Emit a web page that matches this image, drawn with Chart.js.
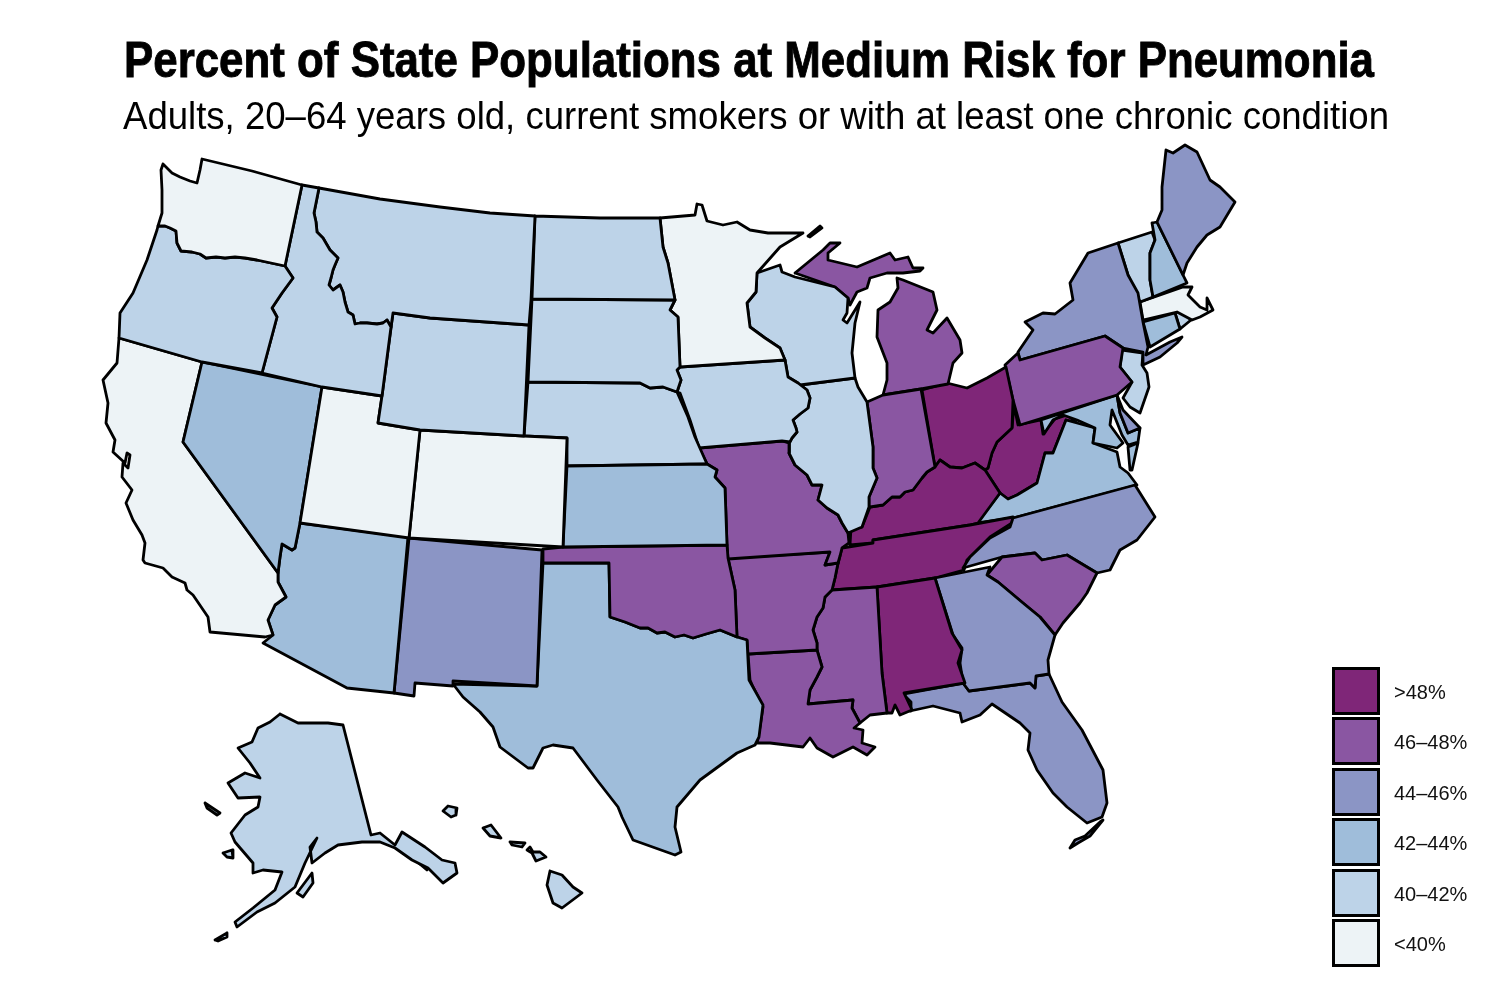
<!DOCTYPE html>
<html><head><meta charset="utf-8">
<script src="https://cdn.jsdelivr.net/npm/chart.js@4"></script>
<style>
html,body{margin:0;padding:0;background:#fff;width:1500px;height:1000px;overflow:hidden}
#wrap{position:absolute;left:0;top:0;width:1500px;height:1000px}
.t{position:absolute;white-space:nowrap;transform-origin:0 0;color:#000}
#title{left:124px;top:33px;font:bold 50px/54px "Liberation Sans Narrow","Liberation Sans",sans-serif;-webkit-text-stroke:0.9px #000}
#sub{left:123px;top:93px;font:normal 39px/46px "Liberation Sans Narrow","Liberation Sans",sans-serif}
.sw{position:absolute;left:1332px;width:42px;height:42px;border:3px solid #000}
.lb{position:absolute;left:1394px;font:20px/24px "Liberation Sans",sans-serif;color:#111}
</style></head><body>
<div id="wrap"><canvas id="c" width="1500" height="1000"></canvas></div>
<div class="t" id="title" data-w="1250">Percent of State Populations at Medium Risk for Pneumonia</div>
<div class="t" id="sub" data-w="1266">Adults, 20–64 years old, current smokers or with at least one chronic condition</div>
<div id="legend"></div>
<script>
const bandLabels=['>48%','46–48%','44–46%','42–44%','40–42%','<40%'];
const bandColors=['#7F2678','#8A56A2','#8B95C5','#9FBDDA','#BDD3E8','#EDF3F6'];
const rev=a=>a.slice().reverse();
// shared borders
const b_WA_OR=[[158,226],[165,226],[170,228],[176,231],[177,243],[181,251],[192,252],[200,254],[206,258],[216,257],[225,258],[235,257],[245,258],[257,260],[285,266]];
const b_ID_MT=[[319,188],[314,213],[316,222],[317,232],[323,238],[330,250],[338,258],[335,265],[333,270],[331,278],[329,285],[333,290],[340,285],[343,292],[345,302],[348,312],[353,315],[355,324],[360,323],[367,323],[377,324],[383,323],[387,320],[391,327]];
const b_UM=[[756,292],[747,303],[750,327],[765,338],[780,348],[785,360]];
const b_IA_E=[[785,360],[788,377],[798,383],[807,390],[810,398],[808,408],[800,414],[793,420],[796,428],[797,432],[792,438],[790,442]];
const b_MO_IL=[[789,443],[789,453],[795,465],[807,475],[812,485],[822,485],[818,500],[827,508],[838,515],[842,523],[848,533]];
const b_IN_KY=[[870,507],[883,505],[892,497],[900,497],[905,492],[913,490],[922,478],[927,472],[935,467]];
const b_OH_KY=[[940,460],[950,467],[962,468],[975,463],[985,470]];
const b_OH_WV=[[988,468],[992,453],[997,442],[1012,428]];
const b_TN_W=[[842,548],[837,568],[835,578],[832,590]];
const b_MS_AR=[[825,597],[823,608],[817,617],[813,630],[817,643],[817,650]];
const b_LA_MS=[[817,650],[822,667],[817,677],[810,690],[808,704]];
const WA=[[163,164],[161,170],[162,190],[162,213],...b_WA_OR,[302,185],[252,171],[202,159],[200,170],[197,183],[190,181],[180,177],[172,173]];
const OR=[[119,338],[120,313],[133,293],[147,260],[157,230],...b_WA_OR,[293,278],[282,293],[272,308],[277,317],[262,373],[202,362]];
const ID=[[302,185],...b_ID_MT,[382,396],[322,387],[262,373],[277,317],[272,308],[282,293],[293,278],[285,266]];
const MT=[[319,188],[380,199],[440,207],[490,213],[535,216],[531,300],[529,325],[430,318],[393,313],...rev(b_ID_MT)];
const WY=[[393,313],[430,318],[529,325],[524,436],[420,430],[378,423],[382,396]];
const UT=[[322,387],[382,396],[378,423],[420,430],[409,538],[300,523]];
const CO=[[420,430],[524,436],[567,438],[563,547],[409,538]];
const NV=[[202,362],[322,387],[300,523],[295,548],[292,550],[282,544],[280,557],[278,573],[183,442]];
const CA=[[119,338],[202,362],[183,442],[278,573],[278,582],[286,597],[275,605],[268,620],[273,635],[265,637],[210,632],[208,617],[193,595],[187,590],[185,583],[172,577],[163,568],[145,563],[143,560],[145,543],[142,535],[133,520],[126,503],[132,490],[122,477],[123,463],[128,468],[130,455],[127,453],[125,463],[113,452],[115,440],[106,423],[108,403],[103,380],[117,363]];
const AZ=[[300,523],[408,537],[394,693],[347,688],[263,643],[273,635],[268,620],[275,605],[286,597],[278,582],[278,573],[280,557],[282,544],[292,550],[295,548]];
const NM=[[409,538],[542,550],[537,686],[453,681],[453,686],[415,683],[414,696],[394,693]];
const KS=[[567,466],[707,464],[717,470],[715,477],[725,488],[727,545],[563,547]];
const OK=[[543,549],[563,547],[727,545],[728,558],[735,590],[737,637],[720,630],[706,634],[693,638],[684,635],[675,637],[665,632],[657,633],[648,628],[640,628],[625,622],[610,617],[609,563],[543,563]];
const TX=[[543,563],[609,563],[610,617],[625,622],[640,628],[648,628],[657,633],[665,632],[675,637],[684,635],[693,638],[706,634],[720,630],[737,637],[747,640],[749,680],[763,705],[759,737],[755,745],[737,753],[700,780],[677,807],[675,827],[681,852],[675,855],[633,840],[622,817],[618,807],[597,780],[573,748],[553,745],[543,748],[533,768],[528,768],[500,747],[493,727],[480,712],[463,697],[453,684],[537,686]];
const ND=[[535,216],[600,218],[660,218],[663,247],[668,263],[675,300],[532,299]];
const SD=[[532,299],[675,300],[670,310],[678,317],[680,367],[677,370],[681,380],[677,392],[663,387],[650,388],[640,383],[528,382]];
const NE=[[528,382],[640,383],[650,388],[663,387],[677,392],[688,417],[695,437],[707,464],[567,466],[567,438],[524,436]];
const MN=[[660,218],[695,215],[697,204],[702,205],[707,221],[723,225],[737,222],[750,230],[768,233],[803,233],[780,247],[757,273],...b_UM,[680,367],[678,317],[670,310],[675,300],[668,263],[663,247]];
const IA=[[680,367],...b_IA_E,[782,441],[699,448],[690,420],[680,393],[677,392],[681,380],[677,370]];
const WI=[[757,273],[780,265],[782,272],[795,277],[835,287],[848,298],[847,313],[843,320],[847,323],[860,302],[855,323],[852,353],[855,378],[800,385],[798,383],[788,377],...rev(b_UM)];
const IL=[[800,385],[855,378],[858,387],[867,402],[873,447],[873,468],[877,478],[869,497],[869,507],[862,527],...rev(b_MO_IL),...rev(b_IA_E).slice(0,-2)];
const IN=[[867,402],[883,395],[921,389],[935,467],...rev(b_IN_KY),[869,497],[877,478],[873,468],[873,447]];
const MI_L=[[883,395],[921,389],[948,384],[953,363],[962,353],[960,340],[947,318],[933,333],[927,330],[937,310],[933,292],[903,280],[897,278],[898,288],[890,302],[878,310],[877,337],[887,363],[887,380]];
const MI_U=[[795,273],[823,250],[830,243],[840,243],[828,253],[828,260],[857,267],[890,253],[895,260],[908,257],[913,268],[923,268],[920,271],[903,273],[887,273],[870,278],[867,288],[857,292],[850,305],[848,298],[835,287]];
const MI_R=[[808,236],[820,226],[822,228],[810,237]];
const MO=[[699,448],[782,441],...b_MO_IL,[849,543],[842,548],[840,556],[838,563],[825,565],[830,552],[728,559],[727,545],[725,488],[715,477],[717,470],[707,464]];
const AR=[[728,558],[830,552],[825,565],[838,563],[837,568],[835,578],[832,590],...b_MS_AR,[748,654],[747,640],[737,637],[735,590]];
const LA=[[748,654],...b_LA_MS,[853,700],[852,708],[860,723],[854,728],[863,730],[862,743],[875,747],[867,755],[853,747],[833,757],[817,748],[810,738],[803,747],[770,743],[757,743],[760,727],[763,707],[753,687],[750,680]];
const MS=[[832,590],[877,587],[882,673],[887,713],[870,715],[860,723],[852,708],[853,700],...rev(b_LA_MS),...rev(b_MS_AR).slice(1)];
const AL=[[877,587],[935,578],[952,633],[962,650],[958,663],[965,683],[904,693],[912,710],[900,715],[895,705],[892,713],[887,713],[882,673]];
const GA=[[935,578],[990,567],[987,575],[998,582],[1023,603],[1040,617],[1055,635],[1048,660],[1049,674],[1036,676],[1035,688],[1030,683],[969,691],[963,683],[960,663],[962,648],[953,635]];
const FL=[[903,694],[963,683],[969,691],[1030,683],[1035,688],[1036,676],[1049,674],[1062,702],[1082,730],[1103,770],[1107,803],[1102,817],[1087,823],[1067,807],[1053,793],[1037,770],[1028,750],[1030,733],[1020,723],[992,704],[980,715],[962,722],[960,713],[933,706],[910,711],[911,702]];
const FL_K=[[1070,848],[1075,840],[1085,836],[1100,822],[1103,820],[1090,836],[1078,843]];
const SC=[[987,575],[1002,557],[1035,553],[1042,560],[1067,555],[1097,573],[1087,593],[1080,603],[1063,623],[1055,635],[1040,617],[1023,603],[998,582]];
const NC=[[1135,485],[1155,517],[1137,540],[1120,550],[1110,570],[1097,573],[1067,555],[1042,560],[1035,553],[1002,557],[963,568],[970,557],[990,538],[1010,527],[1013,518]];
const TN=[[1013,517],[1012,523],[990,537],[967,560],[964,570],[935,578],[877,587],...rev(b_TN_W),[873,543],[873,540],[970,525]];
const KY=[[850,545],[851,528],[862,527],...b_IN_KY,...b_OH_KY,[1000,493],[978,523],[970,525],[873,540],[873,543]];
const OH=[[922,390],[947,383],[967,388],[987,378],[1006,367],[1013,400],[1012,428],...rev(b_OH_WV),...rev(b_OH_KY),[935,467]];
const PA=[[1005,365],[1018,353],[1020,360],[1105,336],[1123,348],[1120,367],[1132,382],[1117,395],[1020,425],[1013,400]];
const NY=[[1020,360],[1018,352],[1033,330],[1025,322],[1043,313],[1055,314],[1073,300],[1070,283],[1088,253],[1118,243],[1128,275],[1138,293],[1143,322],[1148,347],[1146,355],[1170,342],[1182,337],[1177,343],[1160,357],[1143,365],[1143,352],[1123,348],[1105,336]];
const NJ=[[1122,350],[1143,353],[1142,365],[1147,373],[1149,387],[1140,413],[1130,407],[1123,398],[1132,382],[1120,367]];
const DE=[[1117,395],[1123,410],[1140,428],[1128,433],[1120,413]];
const MD=[[1041,420],[1117,395],[1120,413],[1128,433],[1140,428],[1138,442],[1128,445],[1122,435],[1112,410],[1110,425],[1123,443],[1117,448],[1093,443],[1095,428],[1077,420],[1063,415],[1053,420],[1044,434]];
const VA=[[977,523],[1000,493],[1008,499],[1017,495],[1037,483],[1045,453],[1053,453],[1066,420],[1077,423],[1095,428],[1093,443],[1117,452],[1120,467],[1128,473],[1137,485],[1013,518]];
const VA_E=[[1132,470],[1138,443],[1128,447],[1130,470]];
const WV=[[1014,405],[1018,425],[1041,420],[1043,434],[1055,419],[1067,415],[1077,423],[1066,420],[1053,453],[1045,453],[1037,483],[1017,495],[1008,499],[1000,493],[985,470],...b_OH_WV];
const ME=[[1157,222],[1162,210],[1162,187],[1166,150],[1173,153],[1185,145],[1197,152],[1210,180],[1220,187],[1235,202],[1220,227],[1207,235],[1197,247],[1187,263],[1183,275]];
const NH=[[1152,223],[1157,222],[1183,275],[1187,283],[1153,297],[1150,280],[1150,253],[1155,240]];
const VT=[[1118,243],[1152,232],[1155,240],[1150,253],[1150,280],[1153,297],[1140,302],[1128,275]];
const MA=[[1140,302],[1183,287],[1192,287],[1188,295],[1200,307],[1207,310],[1207,298],[1213,310],[1200,317],[1192,320],[1177,312],[1143,320]];
const CT=[[1143,322],[1175,313],[1180,329],[1150,347]];
const RI=[[1175,313],[1182,310],[1191,320],[1180,329]];
const AK=[[280,714],[298,723],[328,723],[343,725],[371,835],[380,833],[395,845],[402,832],[425,847],[442,860],[455,863],[457,873],[443,883],[428,868],[412,860],[395,848],[380,842],[362,842],[338,845],[325,853],[312,863],[310,847],[317,838],[305,863],[295,887],[275,903],[257,912],[237,927],[235,922],[253,908],[275,890],[282,872],[263,870],[253,873],[253,863],[235,842],[231,833],[245,815],[258,807],[260,797],[238,798],[228,783],[245,773],[260,778],[250,763],[238,748],[252,742],[258,728],[270,722]];
const AK_KO=[[297,893],[312,873],[313,883],[303,897]];
const AK_NU=[[223,853],[232,850],[233,858],[227,857]];
const AK_SL=[[205,803],[220,813],[217,815],[207,808]];
const AK_UN=[[215,940],[227,933],[227,937],[218,941]];
const AK_P1=[[408,848],[418,847],[427,870],[415,860]];
const AK_P2=[[422,857],[435,860],[428,867]];
const HI_K=[[443,811],[448,806],[457,808],[456,815],[451,817]];
const HI_O=[[483,828],[491,825],[501,838],[490,836]];
const HI_M=[[510,842],[525,843],[522,847],[512,845]];
const HI_U=[[527,850],[530,847],[533,852],[540,852],[546,857],[536,861],[532,853]];
const HI_B=[[550,871],[562,875],[573,887],[582,893],[562,908],[553,903],[547,885]];
const stateNames=['WA','OR','ID','MT','WY','UT','CO','NV','CA','AZ','NM','KS','OK','TX','ND','SD','NE','MN','IA','WI','IL','IN','MI','MO','AR','LA','MS','AL','GA','FL','SC','NC','TN','KY','OH','PA','NY','NJ','DE','MD','VA','WV','ME','NH','VT','MA','CT','RI','AK','HI'];
const stateBands=[5,4,4,4,4,5,5,3,5,3,2,3,1,3,4,4,4,5,4,4,4,1,1,1,1,1,1,0,2,2,1,2,0,0,0,1,2,4,2,3,3,0,2,3,4,5,3,4,4,4];
const stateShapes=[[WA],[OR],[ID],[MT],[WY],[UT],[CO],[NV],[CA],[AZ],[NM],[KS],[OK],[TX],[ND],[SD],[NE],[MN],[IA],[WI],[IL],[IN],[MI_L,MI_U,MI_R],[MO],[AR],[LA],[MS],[AL],[GA],[FL,FL_K],[SC],[NC],[TN],[KY],[OH],[PA],[NY],[NJ],[DE],[MD],[VA,VA_E],[WV],[ME],[NH],[VT],[MA],[CT],[RI],[AK,AK_KO,AK_NU,AK_SL,AK_UN,AK_P1,AK_P2],[HI_K,HI_O,HI_M,HI_U,HI_B]];

const datasets=[];
stateNames.forEach((n,i)=>{stateShapes[i].forEach(p=>{
  const pts=p.concat([p[0]]).map(q=>({x:q[0],y:q[1]}));
  datasets.push({label:n,data:pts,showLine:true,fill:'shape',backgroundColor:bandColors[stateBands[i]],borderColor:'#000',borderWidth:2.8,pointRadius:0,tension:0,borderJoinStyle:'round',borderCapStyle:'round'});
});});
new Chart(document.getElementById('c'),{type:'scatter',data:{datasets},options:{responsive:false,animation:false,events:[],layout:{padding:0},
 plugins:{legend:{display:false},tooltip:{enabled:false},title:{display:false}},
 scales:{x:{type:'linear',min:0,max:1500,display:false},y:{type:'linear',min:0,max:1000,reverse:true,display:false}}}});
const lg=document.getElementById('legend');
bandLabels.forEach((l,i)=>{
  const s=document.createElement('div');s.className='sw';s.style.top=(667+i*50.4)+'px';s.style.background=bandColors[i];lg.appendChild(s);
  const t=document.createElement('div');t.className='lb';t.style.top=(680+i*50.4)+'px';t.textContent=l;lg.appendChild(t);
});
document.querySelectorAll('.t').forEach(e=>{const w=e.getBoundingClientRect().width;e.style.transform='scaleX('+(+e.dataset.w/w)+')';});
</script></body></html>
